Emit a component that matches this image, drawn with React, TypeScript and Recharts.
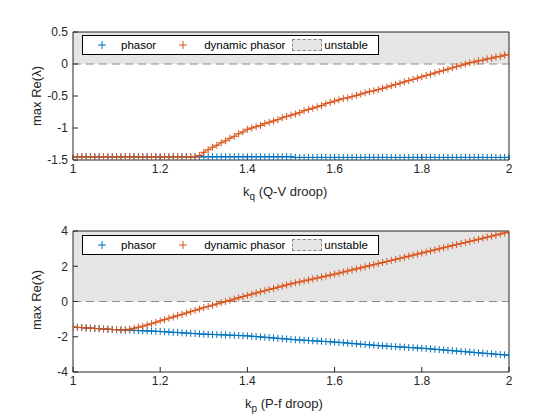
import React from "react";
import { ComposedChart, Line, XAxis, YAxis, ReferenceArea, ReferenceLine } from "recharts";

const kValues = [1.00,1.01,1.02,1.03,1.04,1.05,1.06,1.07,1.08,1.09,1.10,1.11,1.12,1.13,1.14,1.15,1.16,1.17,1.18,1.19,1.20,1.21,1.22,1.23,1.24,1.25,1.26,1.27,1.28,1.29,1.30,1.31,1.32,1.33,1.34,1.35,1.36,1.37,1.38,1.39,1.40,1.41,1.42,1.43,1.44,1.45,1.46,1.47,1.48,1.49,1.50,1.51,1.52,1.53,1.54,1.55,1.56,1.57,1.58,1.59,1.60,1.61,1.62,1.63,1.64,1.65,1.66,1.67,1.68,1.69,1.70,1.71,1.72,1.73,1.74,1.75,1.76,1.77,1.78,1.79,1.80,1.81,1.82,1.83,1.84,1.85,1.86,1.87,1.88,1.89,1.90,1.91,1.92,1.93,1.94,1.95,1.96,1.97,1.98,1.99,2.00];

const topPhasor = [
-1.45,-1.45,-1.45,-1.45,-1.45,-1.45,-1.45,-1.45,-1.45,-1.45,
-1.45,-1.45,-1.45,-1.45,-1.45,-1.45,-1.45,-1.45,-1.45,-1.45,
-1.45,-1.45,-1.45,-1.45,-1.45,-1.45,-1.45,-1.45,-1.45,-1.45,
-1.45,-1.45,-1.45,-1.45,-1.45,-1.45,-1.45,-1.45,-1.45,-1.45,
-1.45,-1.45,-1.45,-1.45,-1.45,-1.45,-1.45,-1.45,-1.45,-1.45,
-1.45,-1.46,-1.46,-1.46,-1.46,-1.46,-1.46,-1.46,-1.46,-1.46,
-1.46,-1.46,-1.46,-1.46,-1.46,-1.46,-1.46,-1.46,-1.46,-1.46,
-1.46,-1.46,-1.46,-1.46,-1.46,-1.46,-1.46,-1.46,-1.46,-1.46,
-1.46,-1.46,-1.46,-1.46,-1.46,-1.46,-1.46,-1.46,-1.46,-1.46,
-1.46,-1.46,-1.46,-1.46,-1.46,-1.46,-1.46,-1.46,-1.46,-1.46,-1.46];

const topDynamic = [
-1.45,-1.45,-1.45,-1.45,-1.45,-1.45,-1.45,-1.45,-1.45,-1.45,
-1.45,-1.45,-1.45,-1.45,-1.45,-1.45,-1.45,-1.45,-1.45,-1.45,
-1.45,-1.45,-1.45,-1.45,-1.45,-1.45,-1.45,-1.45,-1.45,
-1.43,-1.38,-1.34,-1.30,-1.27,-1.23,-1.20,-1.16,-1.13,-1.09,-1.06,-1.02,
-1.00,-0.98,-0.96,-0.93,-0.91,-0.89,-0.87,-0.84,-0.82,-0.80,
-0.78,-0.76,-0.73,-0.71,-0.69,-0.67,-0.65,-0.62,-0.60,-0.58,
-0.56,-0.54,-0.53,-0.51,-0.49,-0.47,-0.45,-0.43,-0.42,-0.40,
-0.38,-0.36,-0.34,-0.32,-0.30,-0.28,-0.26,-0.24,-0.22,-0.20,
-0.18,-0.16,-0.14,-0.12,-0.10,-0.08,-0.06,-0.04,-0.02,0.00,
0.02,0.03,0.05,0.06,0.08,0.09,0.11,0.12,0.14,0.15];

const bottomPhasor = [
-1.45,-1.47,-1.48,-1.50,-1.51,-1.53,-1.54,-1.56,-1.57,-1.59,-1.60,
-1.61,-1.62,-1.63,-1.64,-1.65,-1.66,-1.67,-1.68,-1.69,-1.70,
-1.72,-1.73,-1.75,-1.76,-1.78,-1.79,-1.81,-1.82,-1.84,-1.85,
-1.86,-1.87,-1.88,-1.89,-1.90,-1.91,-1.92,-1.93,-1.94,-1.95,
-1.97,-1.99,-2.01,-2.03,-2.05,-2.07,-2.09,-2.11,-2.13,-2.15,
-2.17,-2.18,-2.20,-2.21,-2.23,-2.24,-2.26,-2.27,-2.29,-2.30,
-2.32,-2.34,-2.36,-2.38,-2.40,-2.42,-2.44,-2.46,-2.48,-2.50,
-2.52,-2.53,-2.55,-2.56,-2.58,-2.59,-2.61,-2.62,-2.64,-2.65,
-2.67,-2.69,-2.71,-2.73,-2.75,-2.77,-2.79,-2.81,-2.83,-2.85,
-2.87,-2.89,-2.91,-2.93,-2.95,-2.97,-2.99,-3.01,-3.03,-3.05];

const bottomDynamic = [
-1.45,-1.47,-1.48,-1.50,-1.51,-1.53,-1.54,-1.56,-1.57,-1.59,-1.60,
-1.61,-1.62,-1.57,-1.52,-1.46,-1.40,-1.33,-1.26,-1.18,-1.10,
-1.03,-0.95,-0.88,-0.80,-0.73,-0.65,-0.58,-0.50,-0.43,-0.35,
-0.28,-0.21,-0.14,-0.07,0.00,0.07,0.14,0.21,0.28,0.35,
0.42,0.48,0.55,0.61,0.68,0.74,0.81,0.87,0.94,1.00,
1.06,1.11,1.17,1.22,1.28,1.33,1.39,1.44,1.50,1.55,
1.61,1.67,1.73,1.79,1.85,1.91,1.97,2.03,2.09,2.15,
2.21,2.27,2.33,2.39,2.45,2.51,2.57,2.63,2.69,2.75,
2.81,2.87,2.93,2.99,3.05,3.11,3.17,3.23,3.29,3.35,
3.41,3.47,3.53,3.59,3.65,3.71,3.77,3.83,3.89,3.95];

const xTicks = [1, 1.2, 1.4, 1.6, 1.8, 2];
const topYTicks = [-1.5, -1, -0.5, 0, 0.5];
const bottomYTicks = [-4, -2, 0, 2, 4];

const BLUE = "#0072BD";
const ORANGE = "#D95319";
const FONT = "'Liberation Sans', Arial, sans-serif";

const topData = kValues.map((k, i) => ({ k, phasor: topPhasor[i], dyn: topDynamic[i] }));
const bottomData = kValues.map((k, i) => ({ k, phasor: bottomPhasor[i], dyn: bottomDynamic[i] }));

const plus = (color: string) => (props: any) => {
  const { cx, cy, index } = props;
  if (cx == null || cy == null) return <g key={index} />;
  return (
    <g key={index}>
      <line x1={cx - 3.5} x2={cx + 3.5} y1={cy} y2={cy} stroke={color} strokeWidth={1} />
      <line x1={cx} x2={cx} y1={cy - 3.5} y2={cy + 3.5} stroke={color} strokeWidth={1} />
    </g>
  );
};

const fmt = (v: number) => String(v);

function PlusIcon({ color }: { color: string }) {
  return (
    <svg width={10} height={10} style={{ display: "inline-block" }}>
      <line x1={1} x2={9} y1={5} y2={5} stroke={color} strokeWidth={1} />
      <line x1={5} x2={5} y1={1} y2={9} stroke={color} strokeWidth={1} />
    </svg>
  );
}

function Legend({ top }: { top: number }) {
  return (
    <div style={{ position: "absolute", left: 82, top, width: 297, height: 20, border: "1px solid #000", background: "#fff", fontFamily: FONT, fontSize: 11.5, display: "flex", alignItems: "center", boxSizing: "border-box", whiteSpace: "nowrap", color: "#000" }}>
      <span style={{ marginLeft: 14, display: "flex" }}><PlusIcon color={BLUE} /></span>
      <span style={{ marginLeft: 14 }}>phasor</span>
      <span style={{ marginLeft: 22, display: "flex" }}><PlusIcon color={ORANGE} /></span>
      <span style={{ marginLeft: 16 }}>dynamic phasor</span>
      <span style={{ marginLeft: 7, width: 28, height: 10, background: "#e5e5e5", border: "1px dashed #888", display: "inline-block" }} />
      <span style={{ marginLeft: 2 }}>unstable</span>
    </div>
  );
}

function Panel({ data, yTicks, domain, top, height, plotTop, plotBottom }: any) {
  const tickStyle = { fontSize: 12, fill: "#262626", fontFamily: FONT };
  return (
    <div style={{ position: "absolute", left: 0, top }}>
      <ComposedChart width={560} height={height} data={data} margin={{ top: plotTop - 1, left: 72, right: 50, bottom: height - plotBottom - 1 }}>
        <XAxis xAxisId="b" dataKey="k" type="number" domain={[1, 2]} ticks={xTicks} tickFormatter={fmt} height={1} tickSize={-5} tickMargin={9} tick={tickStyle} stroke="#262626" interval={0} allowDataOverflow />
        <XAxis xAxisId="t" dataKey="k" type="number" orientation="top" domain={[1, 2]} ticks={xTicks} height={1} tickSize={-5} tick={false} stroke="#262626" interval={0} />
        <YAxis yAxisId="l" type="number" domain={domain} ticks={yTicks} tickFormatter={fmt} width={1} tickSize={-5} tickMargin={10} tick={tickStyle} stroke="#262626" interval={0} allowDataOverflow />
        <YAxis yAxisId="r" type="number" orientation="right" domain={domain} ticks={yTicks} width={1} tickSize={-5} tick={false} stroke="#262626" interval={0} />
        <ReferenceArea xAxisId="b" yAxisId="l" x1={1} x2={2} y1={0} y2={domain[1]} fill="#e5e5e5" fillOpacity={1} stroke="none" />
        <ReferenceLine xAxisId="b" yAxisId="l" y={0} stroke="#8a8a8a" strokeDasharray="8 5" strokeWidth={1} />
        <Line xAxisId="b" yAxisId="l" dataKey="phasor" stroke={BLUE} strokeWidth={1} dot={plus(BLUE)} isAnimationActive={false} />
        <Line xAxisId="b" yAxisId="l" dataKey="dyn" stroke={ORANGE} strokeWidth={1} dot={plus(ORANGE)} isAnimationActive={false} />
      </ComposedChart>
    </div>
  );
}

export default function App() {
  const label = { position: "absolute" as const, fontFamily: FONT, fontSize: 13, color: "#262626", whiteSpace: "nowrap" as const };
  return (
    <div style={{ position: "absolute", left: 0, top: 0, width: 560, height: 420, background: "#fff" }}>
      <Panel data={topData} yTicks={topYTicks} domain={[-1.5, 0.5]} top={0} height={210} plotTop={32} plotBottom={160} />
      <Panel data={bottomData} yTicks={bottomYTicks} domain={[-4, 4]} top={200} height={210} plotTop={31} plotBottom={172} />
      <Legend top={35} />
      <Legend top={235} />
      <div style={{ ...label, left: 12, top: 96, transform: "translate(-50%, -50%) rotate(-90deg)", transformOrigin: "center", marginLeft: 24 }}>max Re(λ)</div>
      <div style={{ ...label, left: 12, top: 300, transform: "translate(-50%, -50%) rotate(-90deg)", transformOrigin: "center", marginLeft: 24 }}>max Re(λ)</div>
      <div style={{ ...label, left: 243, top: 184 }}>k<sub style={{ fontSize: 10 }}>q</sub> (Q-V droop)</div>
      <div style={{ ...label, left: 245, top: 396 }}>k<sub style={{ fontSize: 10 }}>p</sub> (P-f droop)</div>
    </div>
  );
}
